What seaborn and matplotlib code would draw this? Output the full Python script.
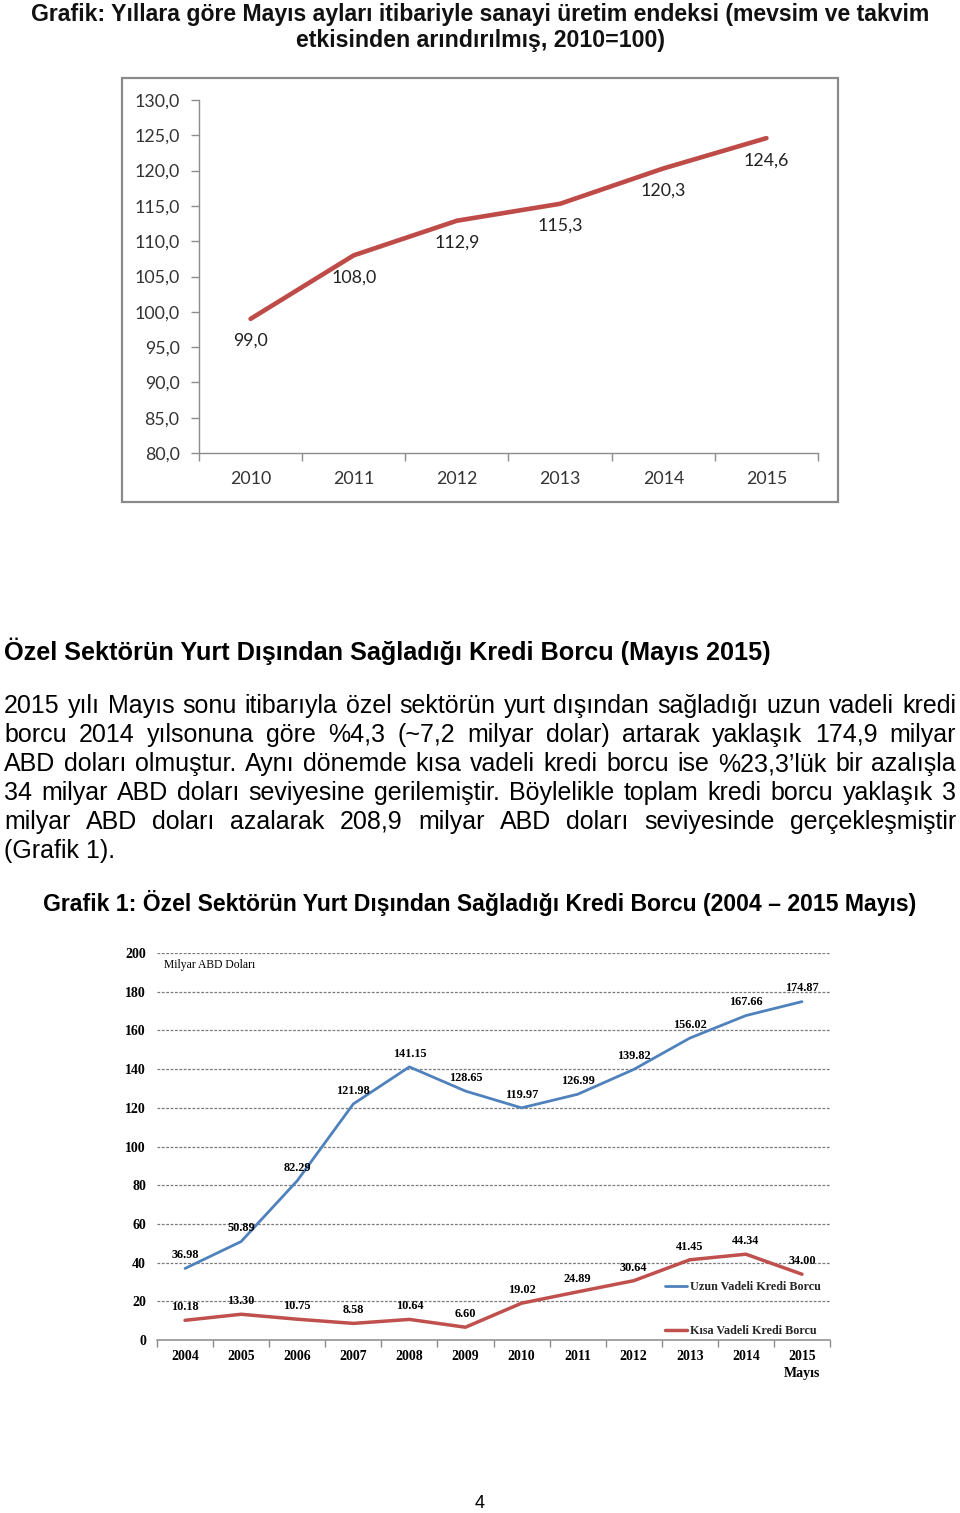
import numpy as np
import pandas as pd
import matplotlib
matplotlib.use("Agg")
import matplotlib.pyplot as plt
import seaborn as sns
from matplotlib.patches import Rectangle
from matplotlib.ticker import FixedLocator, FuncFormatter

# ---------------- data ----------------
ip_years = ["2010", "2011", "2012", "2013", "2014", "2015"]
ip_values = [99.0, 108.0, 112.9, 115.3, 120.3, 124.6]

debt_years = ["2004", "2005", "2006", "2007", "2008", "2009", "2010",
              "2011", "2012", "2013", "2014", "2015\nMayıs"]
long_term = [36.98, 50.89, 82.29, 121.98, 141.15, 128.65, 119.97,
             126.99, 139.82, 156.02, 167.66, 174.87]
short_term = [10.18, 13.30, 10.75, 8.58, 10.64, 6.60, 19.02,
              24.89, 30.64, 41.45, 44.34, 34.00]

title_lines = ["Grafik: Yıllara göre Mayıs ayları itibariyle sanayi üretim endeksi (mevsim ve takvim",
               "etkisinden arındırılmış, 2010=100)"]
heading = "Özel Sektörün Yurt Dışından Sağladığı Kredi Borcu (Mayıs 2015)"
paragraph = [
    "2015 yılı Mayıs sonu itibarıyla özel sektörün yurt dışından sağladığı uzun vadeli kredi",
    "borcu 2014 yılsonuna göre %4,3 (~7,2 milyar dolar) artarak yaklaşık 174,9 milyar",
    "ABD doları olmuştur. Aynı dönemde kısa vadeli kredi borcu ise %23,3’lük bir azalışla",
    "34 milyar ABD doları seviyesine gerilemiştir. Böylelikle toplam kredi borcu yaklaşık 3",
    "milyar ABD doları azalarak 208,9 milyar ABD doları seviyesinde gerçekleşmiştir",
    "(Grafik 1).",
]
chart2_title = "Grafik 1: Özel Sektörün Yurt Dışından Sağladığı Kredi Borcu (2004 – 2015 Mayıs)"
unit_label = "Milyar ABD Doları"
legend_labels = ["Uzun Vadeli Kredi Borcu", "Kısa Vadeli Kredi Borcu"]

# ---------------- setup ----------------
W, H = 960, 1513
sns.set_theme(style="white")
plt.rcParams["font.family"] = ["Liberation Sans", "DejaVu Sans"]

fig = plt.figure(figsize=(W / 100, H / 100), dpi=100)
fig.patch.set_facecolor("white")
renderer = fig.canvas.get_renderer()


def fx(px):
    return px / W


def fy(py):
    return 1 - py / H


def rect(l, t, r, b):
    return [fx(l), fy(b), (r - l) / W, (b - t) / H]


def text_width(t):
    return t.get_window_extent(renderer).width


def fit_text(x, y, s, target_w, size, ha="center", **kw):
    t = fig.text(fx(x), fy(y), s, ha=ha, va="center", fontsize=size, **kw)
    w = text_width(t)
    t.set_fontsize(size * target_w / w)
    return t


def justify(s, y, x0, x1, size, **kw):
    words = s.split(" ")
    texts = [fig.text(0, fy(y), w, ha="left", va="center", fontsize=size, **kw) for w in words]
    widths = [text_width(t) for t in texts]
    gap = (x1 - x0 - sum(widths)) / max(len(words) - 1, 1)
    x = x0
    for t, w in zip(texts, widths):
        t.set_x(fx(x))
        x += w + gap


# ---------------- page text ----------------
fit_text(480, 14, title_lines[0], 905, 17, fontweight="bold", color="#111111")
fit_text(480, 41, title_lines[1], 370, 17, fontweight="bold", color="#111111")

fit_text(4, 651, heading, 767, 18, ha="left", fontweight="bold", color="black")
for i, line in enumerate(paragraph):
    yy = 706 + 29 * i
    if i < len(paragraph) - 1:
        justify(line, yy, 4, 956, 18, color="black")
    else:
        fig.text(fx(4), fy(yy), line, ha="left", va="center", fontsize=18, color="black")

fit_text(480, 903, chart2_title, 879, 17, fontweight="bold", color="black")
fig.text(fx(480), fy(1503), "4", ha="center", va="center", fontsize=13, color="black")

# ---------------- chart 1: industrial production ----------------
fig.patches.append(Rectangle((fx(122), fy(502)), (838 - 122) / W, (502 - 78) / H,
                             transform=fig.transFigure, fill=False,
                             edgecolor="#8a8a8a", lw=1.6))

cal = ["Lato", "DejaVu Sans"]
gray = "#8c8c8c"
ax1 = fig.add_axes(rect(199, 100, 818, 453))
ax1.patch.set_alpha(0)
df1 = pd.DataFrame({"pos": np.arange(len(ip_years)), "val": ip_values})
sns.lineplot(data=df1, x="pos", y="val", ax=ax1, color="#BE4B48", lw=3.3)
ax1.set_xlim(-0.5, len(ip_years) - 0.5)
ax1.set_ylim(80, 130)
ax1.set_yticks(np.arange(80, 131, 5))
ax1.yaxis.set_major_formatter(FuncFormatter(lambda v, p: f"{v:.1f}".replace(".", ",")))
ax1.set_xticks(df1["pos"])
ax1.set_xticklabels(ip_years)
ax1.xaxis.set_minor_locator(FixedLocator(np.arange(-0.5, len(ip_years), 1.0)))
ax1.tick_params(axis="x", which="major", bottom=False, length=0, pad=13,
                labelsize=12.8, labelcolor="#333333")
ax1.tick_params(axis="x", which="minor", bottom=True, length=6, width=1, color=gray, direction="out")
ax1.tick_params(axis="y", which="major", left=True, length=6, width=1, color=gray, direction="out",
                pad=8, labelsize=12.8, labelcolor="#333333")
for lab in ax1.get_xticklabels() + ax1.get_yticklabels():
    lab.set_family(cal)
for s in ["top", "right"]:
    ax1.spines[s].set_visible(False)
for s in ["left", "bottom"]:
    ax1.spines[s].set_color(gray)
    ax1.spines[s].set_linewidth(1)
ax1.set_xlabel("")
ax1.set_ylabel("")
for xv, yv in zip(df1["pos"], df1["val"]):
    ax1.annotate(f"{yv:.1f}".replace(".", ","), (xv, yv), xytext=(0, -16),
                 textcoords="offset points", ha="center", va="center",
                 fontsize=12.8, family=cal, color="#222222")

# ---------------- chart 2: private sector external debt ----------------
serif = ["Liberation Serif", "DejaVu Serif"]
ax2 = fig.add_axes(rect(157, 953, 830, 1340))
ax2.patch.set_alpha(0)
df2 = pd.DataFrame({"pos": np.arange(len(debt_years)), "long": long_term, "short": short_term})
sns.lineplot(data=df2, x="pos", y="long", ax=ax2, color="#4F81BD", lw=2.0, label=legend_labels[0])
sns.lineplot(data=df2, x="pos", y="short", ax=ax2, color="#C0504D", lw=2.5, label=legend_labels[1])
ax2.set_xlim(-0.5, len(debt_years) - 0.5)
ax2.set_ylim(0, 200)
ax2.set_yticks(np.arange(0, 201, 20))
ax2.yaxis.set_major_formatter(FuncFormatter(lambda v, p: f"{int(v)}"))
ax2.set_axisbelow(True)
ax2.yaxis.grid(True, linestyle=(0, (2.2, 1.3)), color="#7a7a7a", lw=0.9)
ax2.xaxis.grid(False)
ax2.set_xticks(df2["pos"])
ax2.set_xticklabels(debt_years, linespacing=1.35)
ax2.xaxis.set_minor_locator(FixedLocator(np.arange(-0.5, len(debt_years), 1.0)))
ax2.tick_params(axis="x", which="major", bottom=False, length=0, pad=7.5, labelsize=10, labelcolor="black")
ax2.tick_params(axis="x", which="minor", bottom=True, length=5, width=1, color=gray, direction="out")
ax2.tick_params(axis="y", which="major", left=False, length=0, pad=8, labelsize=10, labelcolor="black")
for lab in ax2.get_xticklabels() + ax2.get_yticklabels():
    lab.set_family(serif)
    lab.set_fontweight("bold")
for s in ["top", "right", "left"]:
    ax2.spines[s].set_visible(False)
ax2.spines["bottom"].set_color(gray)
ax2.spines["bottom"].set_linewidth(1.1)
ax2.set_xlabel("")
ax2.set_ylabel("")

for col in ["long", "short"]:
    for xv, yv in zip(df2["pos"], df2[col]):
        ax2.annotate(f"{yv:.2f}", (xv, yv), xytext=(0, 9.5), textcoords="offset points",
                     ha="center", va="center", fontsize=8.8, family=serif,
                     fontweight="bold", color="black")

fig.text(fx(164), fy(965), unit_label, ha="left", va="center", fontsize=8.4, family=serif, color="black")

leg = ax2.legend(loc="upper left", bbox_to_anchor=(fx(665), fy(1281)), bbox_transform=fig.transFigure,
                 frameon=False, prop=dict(family=serif, weight="bold", size=8.7),
                 handlelength=1.85, handletextpad=0.2, labelspacing=2.65,
                 borderpad=0, borderaxespad=0)

fig.savefig("out.png", dpi=100, facecolor="white")
